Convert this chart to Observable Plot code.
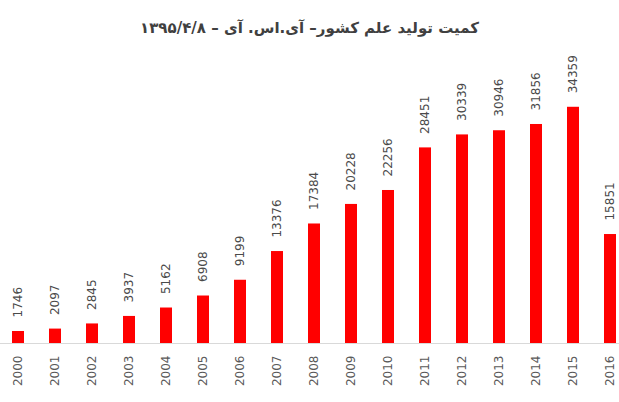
<!DOCTYPE html>
<html><head><meta charset="utf-8">
<script src="https://cdn.jsdelivr.net/npm/d3@7"></script>
<script src="https://cdn.jsdelivr.net/npm/@observablehq/plot@0.6"></script>
<style>
body{margin:0;background:#fff;}
#wrap{width:619px;}
#title{height:40px;line-height:40px;padding-top:8px;box-sizing:border-box;text-align:center;font-family:"DejaVu Sans",sans-serif;font-weight:bold;font-size:15px;color:#404040;direction:rtl;}
</style></head>
<body><div id="wrap"><div id="title">کمیت تولید علم کشور– آی.اس. آی – ۱۳۹۵/۴/۸</div><div id="chart"></div></div>
<script>
const years = ["2000","2001","2002","2003","2004","2005","2006","2007","2008","2009","2010","2011","2012","2013","2014","2015","2016"];
const values = [1746,2097,2845,3937,5162,6908,9199,13376,17384,20228,22256,28451,30339,30946,31856,34359,15851];
const data = years.map((y,i)=>({year:y, value:values[i]}));
const chart = Plot.plot({
  width:619, height:362,
  marginTop:28, marginBottom:59, marginLeft:0, marginRight:0,
  style:{fontFamily:"DejaVu Sans, sans-serif", fontSize:"12px", background:"#fff"},
  x:{domain:years, range:[9.2,618.8], paddingInner:0.68, paddingOuter:0.05, label:null},
  y:{domain:[0,40000], axis:null},
  marks:[
    Plot.barY(data,{x:"year", y:"value", fill:"#ff0000"}),
    Plot.ruleY([0],{stroke:"#d9d9d9", strokeWidth:1}),
    Plot.text(data,{x:"year", y:"value", text:d=>String(d.value), rotate:-90, textAnchor:"start", dy:-14, fill:"#4a4a4a", fontSize:12}),
    Plot.axisX({tickRotate:-90, tickSize:0, tickPadding:12, fill:"#595959", fontSize:12, label:null})
  ]
});
document.getElementById("chart").appendChild(chart);
</script>
</body></html>
